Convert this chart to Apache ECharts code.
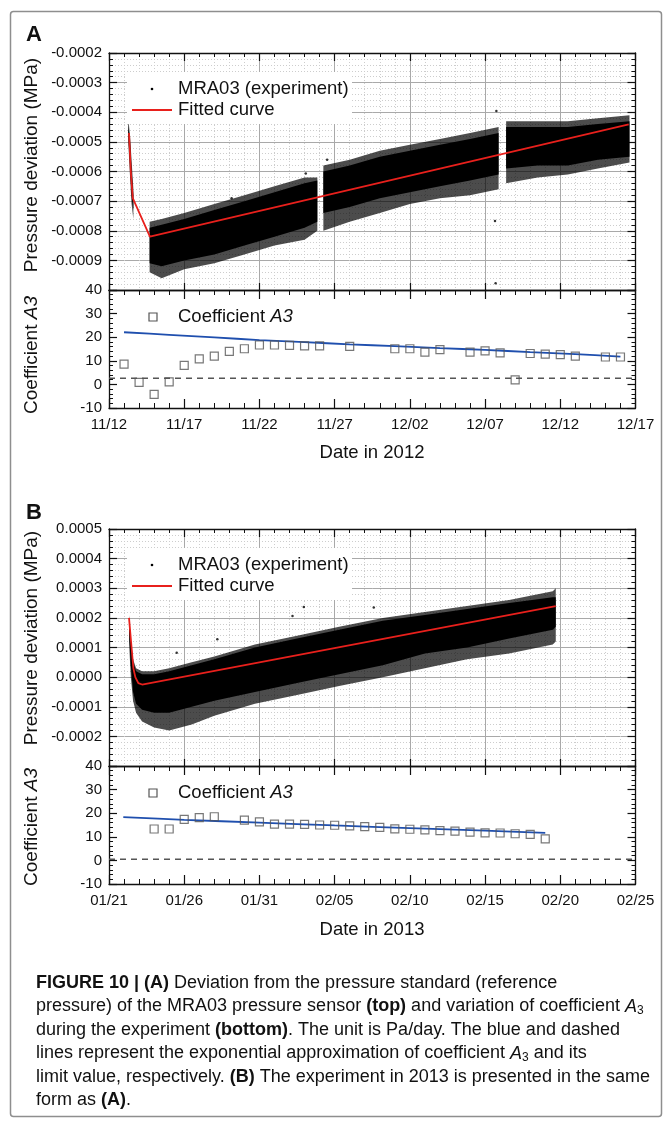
<!DOCTYPE html>
<html><head><meta charset="utf-8">
<script src="https://cdn.jsdelivr.net/npm/echarts@6/dist/echarts.min.js"></script>
<style>html,body{margin:0;padding:0;background:#fff}#c{width:664px;height:1122px}</style>
</head><body><div id="c"></div>
<script>
// ---------------- DATA ----------------
const xTicksA = ['11/12','11/17','11/22','11/27','12/02','12/07','12/12','12/17'];
const xTicksB = ['01/21','01/26','01/31','02/05','02/10','02/15','02/20','02/25'];

// Panel A, pressure deviation record (days after 11/12); null = gap in the record
const bandA_day     = [1.28,1.40,1.50,1.62,null,2.7,3.5,5,7,9,11,13,13.85,null,14.25,16,18,20,22,24,25.9,null,26.4,28.5,30.5,32.5,34.6];
const bandA_outerHi = [-0.00042,-0.00048,-0.00056,-0.00066,null,-0.00077,-0.00076,-0.00074,-0.00071,-0.00068,-0.00065,-0.00062,-0.00062,null,-0.00058,-0.00056,-0.00053,-0.00051,-0.00049,-0.00047,-0.00045,null,-0.00043,-0.00043,-0.00043,-0.00042,-0.00041];
const bandA_coreHi  = [-0.00044,-0.00050,-0.00060,-0.00068,null,-0.00079,-0.00078,-0.00076,-0.00073,-0.00070,-0.00067,-0.00064,-0.00063,null,-0.00060,-0.00058,-0.00055,-0.00053,-0.00051,-0.00049,-0.00047,null,-0.00045,-0.00045,-0.00045,-0.00044,-0.00043];
const bandA_coreLo  = [-0.00048,-0.00058,-0.00068,-0.00073,null,-0.00091,-0.00092,-0.00090,-0.00088,-0.00085,-0.00082,-0.00079,-0.00077,null,-0.00074,-0.00072,-0.00069,-0.00067,-0.00065,-0.00063,-0.00061,null,-0.00059,-0.00058,-0.00058,-0.00056,-0.00055];
const bandA_outerLo = [-0.00050,-0.00062,-0.00071,-0.00076,null,-0.00094,-0.00096,-0.00093,-0.00091,-0.00088,-0.00085,-0.00083,-0.00080,null,-0.00080,-0.00077,-0.00074,-0.00071,-0.00069,-0.00068,-0.00066,null,-0.00064,-0.00062,-0.00061,-0.00059,-0.00057];
const outA_day = [25.75,25.66,25.7,14.5,8.15,13.08];
const outA_val = [-0.000396,-0.000767,-0.000977,-0.00056,-0.00069,-0.000607];
const fitA_day = [1.33,1.45,1.58,2.72,34.55];
const fitA_val = [-0.00047,-0.00060,-0.00069,-0.00082,-0.000441];

// Panel A, coefficient A3
const coefA_day = [1,2,3,4,5,6,7,8,9,10,11,12,13,14,16,19,20,21,22,24,25,26,27,28,29,30,31,33,34];
const coefA_val = [8.6,0.9,-4.2,1.1,8.1,10.8,12.0,14.0,15.1,16.7,16.7,16.5,16.3,16.3,16.1,15.1,15.1,13.7,14.7,13.7,14.2,13.4,1.9,13.1,12.8,12.6,12.0,11.6,11.6];
const expA_day = [1,4,7,10,13,16,19,22,25,28,31,34];
const expA_val = [22.1,21.0,19.9,18.8,17.9,17.0,16.2,15.4,14.6,13.7,12.8,11.8];
const limitA = 2.6;

// Panel B, pressure deviation record (days after 01/21)
const bandB_day     = [1.33,1.45,1.60,1.80,2.2,3.0,4.0,5.5,7.0,9.7,12.5,15.3,18.2,21,23.8,26.6,29.5,29.7];
const bandB_outerHi = [0.00021,0.00013,0.00006,0.00003,0.00002,0.00002,0.00003,0.00005,0.00007,0.00011,0.00014,0.00017,0.00020,0.00022,0.00024,0.00026,0.00029,0.00030];
const bandB_coreHi  = [0.00020,0.00012,0.00005,0.00002,0.00001,0.00001,0.00002,0.00004,0.00006,0.00010,0.00013,0.00016,0.00019,0.00021,0.00023,0.00025,0.00027,0.00027];
const bandB_coreLo  = [0.00016,0.00004,-0.00005,-0.00009,-0.00011,-0.00012,-0.00012,-0.00010,-0.00008,-0.00005,-0.00002,0.00001,0.00004,0.00008,0.00010,0.00013,0.00016,0.00017];
const bandB_outerLo = [0.00012,0.00000,-0.00008,-0.00012,-0.00015,-0.00017,-0.00018,-0.00016,-0.00013,-0.00009,-0.00006,-0.00003,0.00000,0.00003,0.00006,0.00008,0.00011,0.00012];
const outB_day = [4.5,12.2,12.95,17.6,7.2];
const outB_val = [0.000082,0.000206,0.000237,0.000235,0.000128];
const fitB_day = [1.33,1.5,1.62,1.75,1.95,2.2,29.7];
const fitB_val = [0.0002,0.0001,0.00003,0.0,-0.00002,-0.000025,0.00024];

// Panel B, coefficient A3
const coefB_day = [3,4,5,6,7,9,10,11,12,13,14,15,16,17,18,19,20,21,22,23,24,25,26,27,28,29];
const coefB_val = [13.3,13.3,17.4,18.1,18.5,17.1,16.3,15.4,15.4,15.3,15.0,14.9,14.6,14.3,14.0,13.4,13.2,12.9,12.6,12.4,12.0,11.7,11.6,11.3,11.0,9.1];
const expB_day = [0.95,5,10,15,20,25,29];
const expB_val = [18.3,17.2,16.0,14.8,13.7,12.6,11.7];
const limitB = 0.5;
const limitSpan = [0,35];

// ---------------- CHART ----------------
const FONT = '"Liberation Sans", Arial, Helvetica, sans-serif';
const AX = '#111';
const zip = (a,b) => a.map((v,i)=>[v,b[i]]);
const GL = 109, GW = 526.5;
const grids = [
  {left:GL, top:53,  width:GW, height:237},
  {left:GL, top:290, width:GW, height:118},
  {left:GL, top:529, width:GW, height:237},
  {left:GL, top:766, width:GW, height:118}
];
const tick = (len, show) => ({show: show!==false, inside:true, length:len, lineStyle:{color:AX, width:1.2}});
const mtick = (len, show) => ({show: show!==false, splitNumber:5, length:len, lineStyle:{color:AX, width:1}});
const majorGrid = {show:true, lineStyle:{color:'#a9a9a9', width:1, type:'solid'}};
const minorGrid = {show:true, lineStyle:{color:'#cdcdcd', width:1, type:[1,2]}};
function xAx(gi, pos, o){
  return Object.assign({type:'value', gridIndex:gi, position:pos, min:0, max:35, interval:5,
    axisLine:{show:true,onZero:false,lineStyle:{color:AX,width:1.3}},
    axisTick:tick(8), minorTick:mtick(4), axisLabel:{show:false},
    splitLine:{show:false}, minorSplitLine:{show:false}}, o);
}
function yAx(gi, pos, min, max, itv, o){
  return Object.assign({type:'value', gridIndex:gi, position:pos, min:min, max:max, interval:itv,
    axisLine:{show:true,onZero:false,lineStyle:{color:AX,width:1.3}},
    axisTick:tick(8), minorTick:mtick(4), axisLabel:{show:false},
    splitLine:{show:false}, minorSplitLine:{show:false}}, o);
}
const xLab = (labels) => ({show:true, margin:9, fontSize:15, fontFamily:FONT, color:'#111',
  formatter: v => labels[Math.round(v/5)]});
const pLab = {show:true, margin:7, fontSize:15, fontFamily:FONT, color:'#111', showMinLabel:false,
  formatter: v => Math.abs(v)<1e-12 ? '0.0000' : v.toFixed(4)};
const cLab = {show:true, margin:7, fontSize:15, fontFamily:FONT, color:'#111',
  formatter: v => String(Math.round(v))};

const xAxes = [
  xAx(0,'bottom',{axisTick:tick(7), minorTick:mtick(3,false), splitLine:majorGrid, minorSplitLine:minorGrid}),
  xAx(0,'top',{}),
  xAx(1,'bottom',{axisTick:tick(9), minorTick:mtick(5), axisLabel:xLab(xTicksA)}),
  xAx(1,'top',{axisTick:tick(9), minorTick:mtick(5)}),
  xAx(2,'bottom',{axisTick:tick(7), minorTick:mtick(3,false), splitLine:majorGrid, minorSplitLine:minorGrid}),
  xAx(2,'top',{}),
  xAx(3,'bottom',{axisTick:tick(9), minorTick:mtick(5), axisLabel:xLab(xTicksB)}),
  xAx(3,'top',{axisTick:tick(9), minorTick:mtick(5)})
];
const yAxes = [
  yAx(0,'left',-0.0010,-0.0002,0.0001,{axisLabel:pLab, splitLine:majorGrid, minorSplitLine:minorGrid}),
  yAx(0,'right',-0.0010,-0.0002,0.0001,{}),
  yAx(1,'left',-10,40,10,{axisLabel:cLab}),
  yAx(1,'right',-10,40,10,{}),
  yAx(2,'left',-0.0003,0.0005,0.0001,{axisLabel:pLab, splitLine:majorGrid, minorSplitLine:minorGrid}),
  yAx(2,'right',-0.0003,0.0005,0.0001,{}),
  yAx(3,'left',-10,40,10,{axisLabel:cLab}),
  yAx(3,'right',-10,40,10,{})
];

function band(ai, days, hi, lo, color, opacity, z){
  const segs = []; let cur = [];
  days.forEach((d,i)=>{ if(d===null){ if(cur.length) segs.push(cur); cur=[]; } else cur.push(i); });
  if(cur.length) segs.push(cur);
  return {type:'custom', xAxisIndex:ai, yAxisIndex:ai, clip:true, silent:true, z:z,
    data: segs.map(s=>[days[s[0]], hi[s[0]]]), encode:{x:0,y:1},
    renderItem:(params, api)=>{
      const s = segs[params.dataIndex];
      const pts = [];
      s.forEach(i=>pts.push(api.coord([days[i], hi[i]])));
      for(let j=s.length-1;j>=0;j--) pts.push(api.coord([days[s[j]], lo[s[j]]]));
      return {type:'polygon', shape:{points:pts}, style:{fill:color, opacity:opacity}};
    }};
}
const lineS = (ai, d, v, color, w, extra) => Object.assign({type:'line', xAxisIndex:ai, yAxisIndex:ai,
  data:zip(d,v), showSymbol:false, silent:true, lineStyle:{color:color, width:w}, z:5}, extra||{});
const dots = (ai, d, v) => ({type:'scatter', xAxisIndex:ai, yAxisIndex:ai, data:zip(d,v), symbolSize:2.5,
  itemStyle:{color:'#000'}, silent:true, z:4});
const squares = (ai, d, v) => ({type:'scatter', xAxisIndex:ai, yAxisIndex:ai, data:zip(d,v), symbol:'rect',
  symbolSize:8, itemStyle:{color:'rgba(255,255,255,0)', borderColor:'#555', borderWidth:1.2}, silent:true, z:6});
const limitS = (ai, lv) => lineS(ai, limitSpan, [lv,lv], '#555', 1.5, {lineStyle:{color:'#555', width:1.5, type:[6,5]}});

const series = [
  band(0, bandA_day, bandA_outerHi, bandA_outerLo, '#000', 0.7, 2),
  band(0, bandA_day, bandA_coreHi, bandA_coreLo, '#000', 1, 3),
  dots(0, outA_day, outA_val),
  lineS(0, fitA_day, fitA_val, '#e8201c', 1.8),
  limitS(2, limitA),
  lineS(2, expA_day, expA_val, '#1f4fae', 1.8, {smooth:0.3}),
  squares(2, coefA_day, coefA_val),
  band(4, bandB_day, bandB_outerHi, bandB_outerLo, '#000', 0.7, 2),
  band(4, bandB_day, bandB_coreHi, bandB_coreLo, '#000', 1, 3),
  dots(4, outB_day, outB_val),
  lineS(4, fitB_day, fitB_val, '#e8201c', 1.8),
  limitS(6, limitB),
  lineS(6, expB_day, expB_val, '#1f4fae', 1.8, {smooth:0.3}),
  squares(6, coefB_day, coefB_val)
];

// ---------- graphic: frame, letters, titles, legends, caption ----------
const T = (x, y, text, o) => Object.assign({type:'text', x:x, y:y, z:100,
  style:Object.assign({text:text, fontSize:18.5, fontFamily:FONT, fill:'#111', align:'left', verticalAlign:'middle'}, (o&&o.style)||{})},
  o ? {rotation:o.rotation||0} : {});
const rich = {i:{fontStyle:'italic', fontSize:19, fontFamily:FONT, fill:'#111'}};
function legendTop(dy){
  return [
    {type:'rect', z:90, shape:{x:127, y:72+dy, width:225, height:52}, style:{fill:'#fff'}},
    {type:'circle', z:100, shape:{cx:152, cy:89+dy, r:1.3}, style:{fill:'#000'}},
    {type:'line', z:100, shape:{x1:132, y1:110+dy, x2:172, y2:110+dy}, style:{stroke:'#e8201c', lineWidth:1.8}},
    T(178, 89+dy, 'MRA03 (experiment)'),
    T(178, 110+dy, 'Fitted curve')
  ];
}
function legendBottom(dy){
  return [
    {type:'rect', z:100, shape:{x:149, y:313+dy, width:8, height:8}, style:{fill:'none', stroke:'#555', lineWidth:1.2}},
    {type:'text', x:178, y:317+dy, z:100, style:{text:'Coefficient {i|A3}', rich:{i:{fontStyle:'italic', fontSize:18.5, fontFamily:FONT, fill:'#111'}},
      fontSize:18.5, fontFamily:FONT, fill:'#111', verticalAlign:'middle'}}
  ];
}
function yTitle(x, y, text, r){
  return {type:'text', x:x, y:y, rotation:Math.PI/2, z:100,
    style:{text:text, rich:r||{}, fontSize:19, fontFamily:FONT, fill:'#111', align:'center', verticalAlign:'middle'}};
}
const capRich = {
  b:{fontWeight:'bold', fontSize:18, fontFamily:FONT, fill:'#111', verticalAlign:'middle', lineHeight:22},
  n:{fontSize:18, fontFamily:FONT, fill:'#111', verticalAlign:'middle', lineHeight:22},
  i:{fontStyle:'italic', fontSize:18, fontFamily:FONT, fill:'#111', verticalAlign:'middle', lineHeight:22},
  s:{fontSize:12, fontFamily:FONT, fill:'#111', verticalAlign:'middle', lineHeight:12, padding:[9,0,0,0]}
};
const captionLines = [
  '{b|FIGURE 10 | (A)}{n| Deviation from the pressure standard (reference}',
  '{n|pressure) of the MRA03 pressure sensor }{b|(top)}{n| and variation of coefficient }{i|A}{s|3}',
  '{n|during the experiment }{b|(bottom)}{n|. The unit is Pa/day. The blue and dashed}',
  '{n|lines represent the exponential approximation of coefficient }{i|A}{s|3}{n| and its}',
  '{n|limit value, respectively. }{b|(B)}{n| The experiment in 2013 is presented in the same}',
  '{n|form as }{b|(A)}{n|.}'
];
const captionY = [983, 1006.5, 1030, 1053.5, 1077, 1100];

const graphic = [
  {type:'rect', z:1, shape:{x:10.5, y:11.5, width:651, height:1105, r:3}, style:{fill:'none', stroke:'#8e8e8e', lineWidth:1.5}},
  T(26, 35, 'A', {style:{fontSize:22, fontWeight:'bold'}}),
  T(26, 513, 'B', {style:{fontSize:22, fontWeight:'bold'}}),
  yTitle(32, 165, 'Pressure deviation (MPa)'),
  yTitle(32, 355, 'Coefficient {i|A3}', rich),
  yTitle(32, 638, 'Pressure deviation (MPa)'),
  yTitle(32, 827, 'Coefficient {i|A3}', rich),
  T(372, 453, 'Date in 2012', {style:{align:'center'}}),
  T(372, 930, 'Date in 2013', {style:{align:'center'}}),
  ...legendTop(0), ...legendBottom(0), ...legendTop(476), ...legendBottom(476),
  ...captionLines.map((t,k)=>({type:'text', x:36, y:captionY[k], z:100,
     style:{text:t, rich:capRich, fontSize:18, fontFamily:FONT, fill:'#111', verticalAlign:'middle'}}))
];

const chart = echarts.init(document.getElementById('c'), null, {renderer:'canvas', width:664, height:1122});
chart.setOption({animation:false, backgroundColor:'#fff', grid:grids, xAxis:xAxes, yAxis:yAxes, series:series, graphic:graphic});
</script>
</body></html>
